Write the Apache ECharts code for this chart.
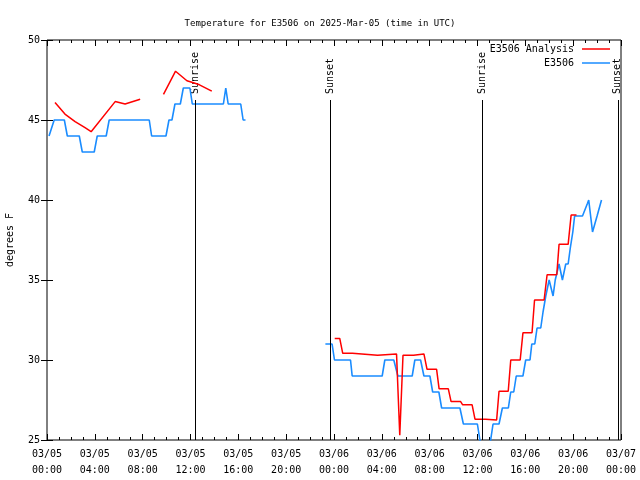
<!DOCTYPE html>
<html><head><meta charset="utf-8">
<script src="https://cdn.jsdelivr.net/npm/echarts@6/dist/echarts.min.js"></script>
<style>html,body{margin:0;padding:0;background:#fff}#c{width:640px;height:480px}</style>
</head><body><div id="c"></div>
<script>
const titleText = 'Temperature for E3506 on 2025-Mar-05 (time in UTC)';
const yAxisTitle = 'degrees F';
const xTickLabels = ['03/05\n00:00','03/05\n04:00','03/05\n08:00','03/05\n12:00','03/05\n16:00','03/05\n20:00',
  '03/06\n00:00','03/06\n04:00','03/06\n08:00','03/06\n12:00','03/06\n16:00','03/06\n20:00','03/07\n00:00'];
const seriesNames = ['E3506 Analysis', 'E3506'];

// hours since 03/05 00:00 UTC (null = gap)
const blueHours = [0.17,0.6,1.45,1.7,2.7,2.95,3.95,4.2,4.95,5.2,8.55,8.75,9.95,10.2,10.45,10.7,11.15,11.4,11.95,12.15,14.75,14.95,15.15,16.2,16.4,16.6,
  20,
  23.28,23.84,24.04,25.38,25.52,28.03,28.25,29.0,29.34,30.54,30.76,31.24,31.52,32.02,32.25,32.77,33.0,34.53,34.82,35.99,36.2,36.4,36.9,37.1,37.3,37.8,
  38.08,38.58,38.78,39.03,39.24,39.8,40.03,40.39,40.54,40.79,40.98,41.29,41.48,41.71,41.99,42.32,42.5,42.82,43.1,43.38,43.58,43.76,43.97,44.12,44.78,
  45.2,45.3,45.62,46.0,46.37];
const blueTemps = [44,45,45,44,44,43,43,44,44,45,45,44,44,45,45,46,46,47,47,46,46,47,46,46,45,45,
  null,
  31,31,30,30,29,29,30,30,29,29,30,30,29,29,28,28,27,27,26,26,25,24,24,25,26,26,
  27,27,28,28,29,29,30,30,31,31,32,32,33,34,35,34,35,36,35,36,36,37,38,39,39,
  39.8,40,38,39,40];

const redHours = [0.67,1.5,2.35,3.18,3.69,5.7,6.53,7.79,
  8.7,
  9.74,10.75,11.7,12.25,12.75,13.78,
  18,
  24.06,24.48,24.73,25.54,25.67,27.64,27.68,29.23,29.5,29.77,30.65,30.7,31.52,31.78,32.58,32.79,33.56,33.79,34.59,34.76,35.55,35.79,36.68,36.77,
  37.6,37.8,38.57,38.78,39.57,39.8,40.56,40.77,41.57,41.82,42.63,42.82,43.58,43.83,44.28];
const redTemps = [46.1,45.37,44.9,44.52,44.27,46.15,46.0,46.3,
  null,
  46.6,48.05,47.45,47.33,47.2,46.8,
  null,
  31.35,31.35,30.42,30.42,30.3,30.3,30.38,30.38,25.3,30.3,30.3,30.38,30.38,29.42,29.42,28.2,28.2,27.4,27.4,27.2,27.2,26.3,26.3,26.25,
  26.25,28.05,28.05,30.0,30.0,31.7,31.7,33.75,33.75,35.33,35.33,37.23,37.23,39.06,39.06];

const sunEventHours = [12.41, 23.66, 36.38, 47.73];
const sunEventNames = ['Sunrise', 'Sunset', 'Sunrise', 'Sunset'];
const sunLineTop = 46.25;

const FONT = 'DejaVu Sans Mono';
const RED = '#ff0000', BLUE = '#1a8cff';
const X_MIN = 0, X_MAX = 48, Y_MIN = 25, Y_MAX = 50;

const bluePairs = blueHours.map((h, i) => [h, blueTemps[i]]);
const redPairs = redHours.map((h, i) => [h, redTemps[i]]);

const chart = echarts.init(document.getElementById('c'), null, {renderer: 'canvas'});

const xCommon = {
  type: 'value', min: X_MIN, max: X_MAX, interval: 4,
  axisLine: {show: false},
  splitLine: {show: false},
  axisTick: {show: true, inside: true, length: 6, lineStyle: {color: '#000'}},
  minorTick: {show: true, splitNumber: 4, length: 3, lineStyle: {color: '#000'}},
};
const yCommon = {
  type: 'value', min: Y_MIN, max: Y_MAX, interval: 5,
  axisLine: {show: false},
  splitLine: {show: false},
  axisTick: {show: true, inside: true, length: 6, lineStyle: {color: '#000'}},
};

const option = {
  animation: false,
  backgroundColor: '#fff',
  title: {text: titleText, left: 'center', top: 14,
    textStyle: {fontFamily: FONT, fontSize: 9, fontWeight: 'normal', color: '#000'}},
  grid: {left: 47, right: 19, top: 40, bottom: 40, show: true, borderColor: '#000', borderWidth: 1,
    containLabel: false, outerBoundsMode: 'none'},
  xAxis: [
    Object.assign({}, xCommon, {position: 'bottom',
      axisLabel: {show: true, margin: 6, fontFamily: FONT, fontSize: 10, color: '#000', lineHeight: 16,
        formatter: v => xTickLabels[Math.round(v / 4)]}}),
    Object.assign({}, xCommon, {position: 'top', axisLabel: {show: false}})
  ],
  yAxis: [
    Object.assign({}, yCommon, {position: 'left', name: yAxisTitle, nameLocation: 'middle', nameGap: 32,
      nameRotate: 90, nameTextStyle: {fontFamily: FONT, fontSize: 10, color: '#000'},
      axisLabel: {show: true, margin: 7, fontFamily: FONT, fontSize: 10, color: '#000'}}),
    Object.assign({}, yCommon, {position: 'right', axisLabel: {show: false}})
  ],
  series: [
    {name: seriesNames[0], type: 'line', data: redPairs, showSymbol: false, symbol: 'none',
      connectNulls: false, clip: true, lineStyle: {color: RED, width: 1.5}, itemStyle: {color: RED}, z: 3},
    {name: seriesNames[1], type: 'line', data: bluePairs, showSymbol: false, symbol: 'none',
      connectNulls: false, clip: true, lineStyle: {color: BLUE, width: 1.6}, itemStyle: {color: BLUE}, z: 2,
      markLine: {silent: true, symbol: 'none', animation: false,
        lineStyle: {color: '#000', width: 1, type: 'solid'}, label: {show: false},
        data: sunEventHours.map(h => [{coord: [h, Y_MIN]}, {coord: [h, sunLineTop]}])}}
  ]
};
chart.setOption(option);

// labels for sun events and legend
const graphics = [];
sunEventHours.forEach((h, i) => {
  const p = chart.convertToPixel({gridIndex: 0}, [h, sunLineTop]);
  graphics.push({type: 'text', x: p[0], y: p[1] - 6, rotation: Math.PI / 2, silent: true,
    style: {text: sunEventNames[i], fontFamily: FONT, fontSize: 10, fill: '#000',
      align: 'left', verticalAlign: 'middle'}});
});
const legendRight = 574, legendTop = 49, legendStep = 14;
[[seriesNames[0], RED], [seriesNames[1], BLUE]].forEach((it, i) => {
  const y = legendTop + i * legendStep;
  graphics.push({type: 'text', x: legendRight, y: y, silent: true,
    style: {text: it[0], fontFamily: FONT, fontSize: 10, fill: '#000', align: 'right', verticalAlign: 'middle'}});
  graphics.push({type: 'line', silent: true, shape: {x1: 582, y1: y, x2: 610, y2: y},
    style: {stroke: it[1], lineWidth: 1.5}});
});
chart.setOption({graphic: graphics});
</script>
</body></html>
